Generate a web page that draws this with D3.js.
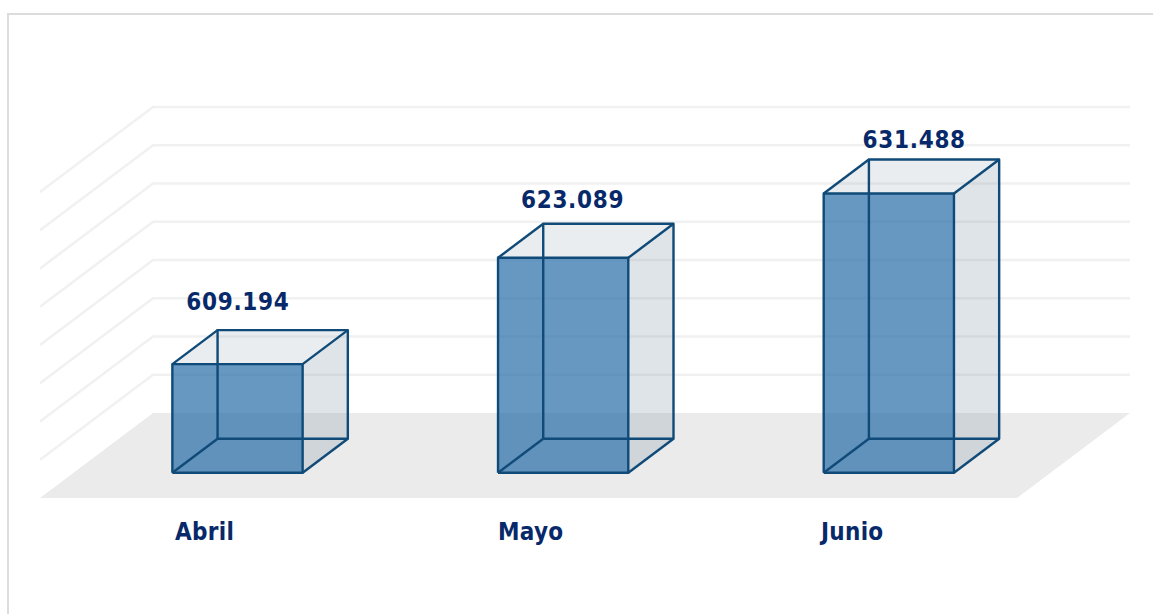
<!DOCTYPE html>
<html>
<head>
<meta charset="utf-8">
<style>
html,body{margin:0;padding:0;background:#fff;overflow:hidden;}
svg{display:block;}
text{
	font-family:"DejaVu Sans Condensed","DejaVu Sans",sans-serif;
	font-weight:bold;
	fill:#07296a;
}
.value{font-size:24px;text-anchor:middle;letter-spacing:0.7px;}
.cat{font-size:24px;letter-spacing:0.3px;}
.grid{fill:none;stroke:#f1f1f1;stroke-width:2.6;}
.edge{fill:none;stroke:#0f4a78;stroke-width:2.4;stroke-linejoin:round;}
</style>
</head>
<body>
<script src="https://d3js.org/d3.v7.min.js"></script>
<script>

var months=["Abril","Mayo","Junio"];
var values=[609194,623089,631488];
var valueLabels=["609.194","623.089","631.488"];
var gridTicks=[600000,605000,610000,615000,620000,625000,630000,635000];

var svg=d3.select("body").append("svg").attr("width",1153).attr("height",614);

// card border
svg.append("path").attr("d","M8,614V14H1153").attr("fill","none").attr("stroke","#dcdcdc").attr("stroke-width",2);

var x=d3.scaleBand().domain(months).range([40,1017]).paddingInner(0.6).paddingOuter(0.3);
var y=d3.scaleLinear().domain([595000,635000]).range([498,192]);
var depthX=d3.scaleLinear().domain([0,1]).range([0,113]);
var depthY=d3.scaleLinear().domain([0,1]).range([0,-85]);

// label positions don't follow the bars exactly in the original
var catX=d3.scaleLinear().domain([0,2]).range([175,821]);
var valueDx=[0.5,9.5,25.5];
var valueDy=[19,15,11];

function pt(px,v,z){
	return [px+depthX(z),y(v)+depthY(z)];
}
var line=d3.line();

// floor
var floorV=y.domain()[0];
svg.append("path")
	.attr("d",line([pt(40,floorV,0),pt(1017,floorV,0),pt(1017,floorV,1),pt(40,floorV,1)])+"Z")
	.attr("fill","#ebebeb");

// side wall and back wall gridlines
svg.selectAll(".grid").data(gridTicks).join("path")
	.attr("class","grid")
	.attr("d",d=>line([pt(40,d,0),pt(40,d,1),pt(1017,d,1)]));

var z0=26/85, z1=60/85;

var bars=svg.selectAll(".bar").data(months).join("g").attr("class","bar")
	.attr("transform","translate(0.1,0.7)");

bars.each(function(m,i){
	var g=d3.select(this);
	var l=x(m), r=l+x.bandwidth(), b=floorV, t=values[i];

	// top and side
	g.append("path").attr("d",line([pt(l,t,z0),pt(r,t,z0),pt(r,t,z1),pt(l,t,z1)])+"Z")
		.attr("fill","rgba(127,147,163,0.17)");
	g.append("path").attr("d",line([pt(r,b,z0),pt(r,t,z0),pt(r,t,z1),pt(r,b,z1)])+"Z")
		.attr("fill","rgba(127,147,163,0.25)");
	// front
	g.append("path").attr("d",line([pt(l,b,z0),pt(r,b,z0),pt(r,t,z0),pt(l,t,z0)])+"Z")
		.attr("fill","rgba(39,108,166,0.7)");

	// wireframe
	[
		[pt(l,b,z0),pt(r,b,z0),pt(r,t,z0),pt(l,t,z0),pt(l,b,z0)],
		[pt(l,b,z1),pt(r,b,z1),pt(r,t,z1),pt(l,t,z1),pt(l,b,z1)],
		[pt(l,b,z0),pt(l,b,z1)],
		[pt(r,b,z0),pt(r,b,z1)],
		[pt(r,t,z0),pt(r,t,z1)],
		[pt(l,t,z0),pt(l,t,z1)]
	].forEach(function(e){
		g.append("path").attr("class","edge").attr("d",line(e));
	});
});

svg.selectAll(".value").data(months).join("text")
	.attr("class","value")
	.attr("x",(m,i)=>pt(x(m)+x.bandwidth()/2,0,z0)[0]+valueDx[i])
	.attr("y",(m,i)=>pt(0,values[i],z1)[1]-valueDy[i])
	.text((m,i)=>valueLabels[i]);

svg.selectAll(".cat").data(months).join("text")
	.attr("class","cat")
	.attr("x",(m,i)=>catX(i))
	.attr("y",540)
	.text(d=>d);
</script>
</body>
</html>
